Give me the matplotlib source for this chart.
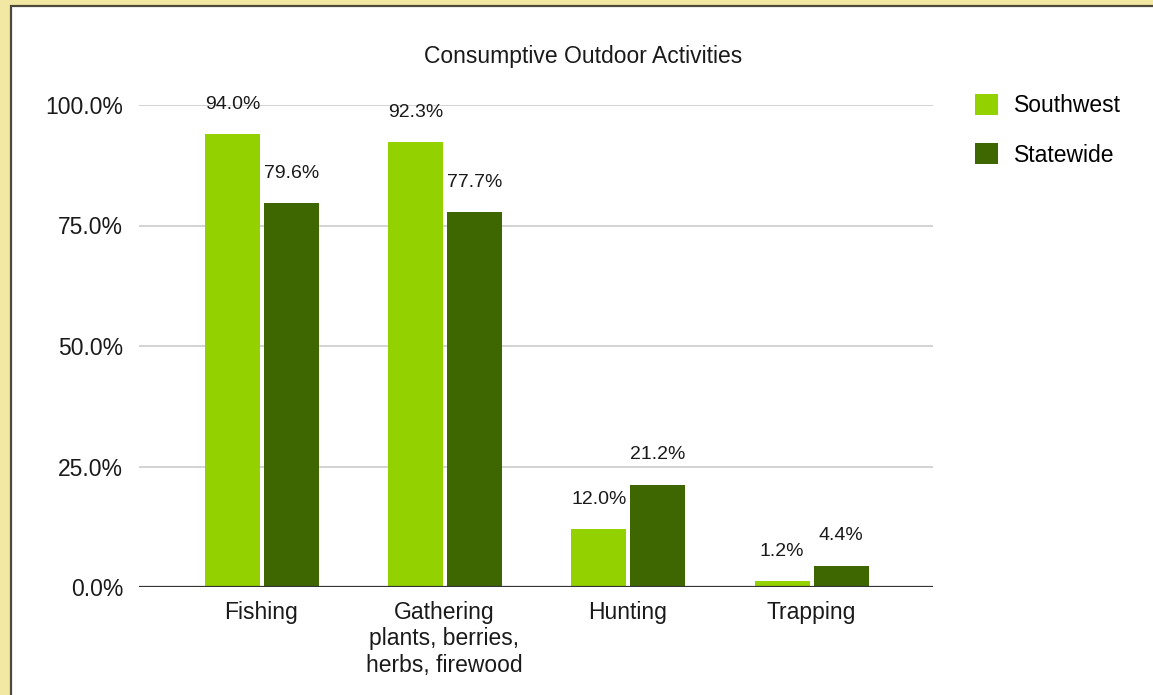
import numpy as np
import matplotlib.pyplot as plt
from matplotlib.patches import Rectangle

plt.rcParams['font.family'] = ['Liberation Sans', 'DejaVu Sans']

categories = ["Fishing", "Gathering\nplants, berries,\nherbs, firewood", "Hunting", "Trapping"]
southwest = [94.0, 92.3, 12.0, 1.2]
statewide = [79.6, 77.7, 21.2, 4.4]
series_names = ["Southwest", "Statewide"]
colors = ["#93d101", "#3e6701"]
yticks = [0, 25, 50, 75, 100]

W, H = 1153, 695
fig = plt.figure(figsize=(W / 100, H / 100), dpi=100, facecolor="#f2e8a3")

# white card with a dark border on the top and left
card = Rectangle((11 / W, -0.1), 1.2, 1 - 6 / H + 0.1, transform=fig.transFigure,
                 facecolor="white", edgecolor="#4d4a3c", linewidth=1.6, zorder=-5)
fig.patches.append(card)

ax = fig.add_axes([139 / W, (H - 587) / H, (933 - 139) / W, (587 - 105) / H])
ax.set_facecolor("none")
ax.set_zorder(2)

x = np.arange(len(categories))
width = 0.30
offset = 0.161
bars1 = ax.bar(x - offset + 0.004, southwest, width, color=colors[0], label=series_names[0], zorder=3)
bars2 = ax.bar(x + offset + 0.004, statewide, width, color=colors[1], label=series_names[1], zorder=3)

for bars, vals in ((bars1, southwest), (bars2, statewide)):
    for b, v in zip(bars, vals):
        ax.annotate(f"{v:.1f}%", (b.get_x() + b.get_width() / 2, v),
                    xytext=(0, 21.5), textcoords="offset points",
                    ha="center", va="center", fontsize=14, color="#1a1a1a",
                    zorder=4, annotation_clip=False)

ax.set_xlim(-0.667, 3.667)
ax.set_ylim(0, 100)
ax.set_yticks(yticks)
ax.set_yticklabels([f"{t:.1f}%" for t in yticks])
ax.set_xticks(x)
ax.set_xticklabels(categories, linespacing=1.2)
ax.tick_params(axis="both", length=0, labelsize=16.5, colors="#1a1a1a")
ax.tick_params(axis="y", pad=11.5)
ax.tick_params(axis="x", pad=10)

for t in yticks[1:]:
    ax.axhline(t, color="#cccccc", linewidth=1.2, zorder=1)
ax.axhline(0, color="#333333", linewidth=1.6, zorder=5)

for s in ax.spines.values():
    s.set_visible(False)

fig.text(583 / W, 1 - 56 / H, "Consumptive Outdoor Activities",
         ha="center", va="center", fontsize=16.5, color="#1a1a1a")

leg = fig.legend(loc="upper left", bbox_to_anchor=(975 / W, 1 - 94 / H), frameon=False,
                 fontsize=16.5, handlelength=1.0, handleheight=1.0, handletextpad=0.7,
                 labelspacing=1.15, borderaxespad=0, borderpad=0)

fig.savefig("out.png", dpi=100, facecolor=fig.get_facecolor())
